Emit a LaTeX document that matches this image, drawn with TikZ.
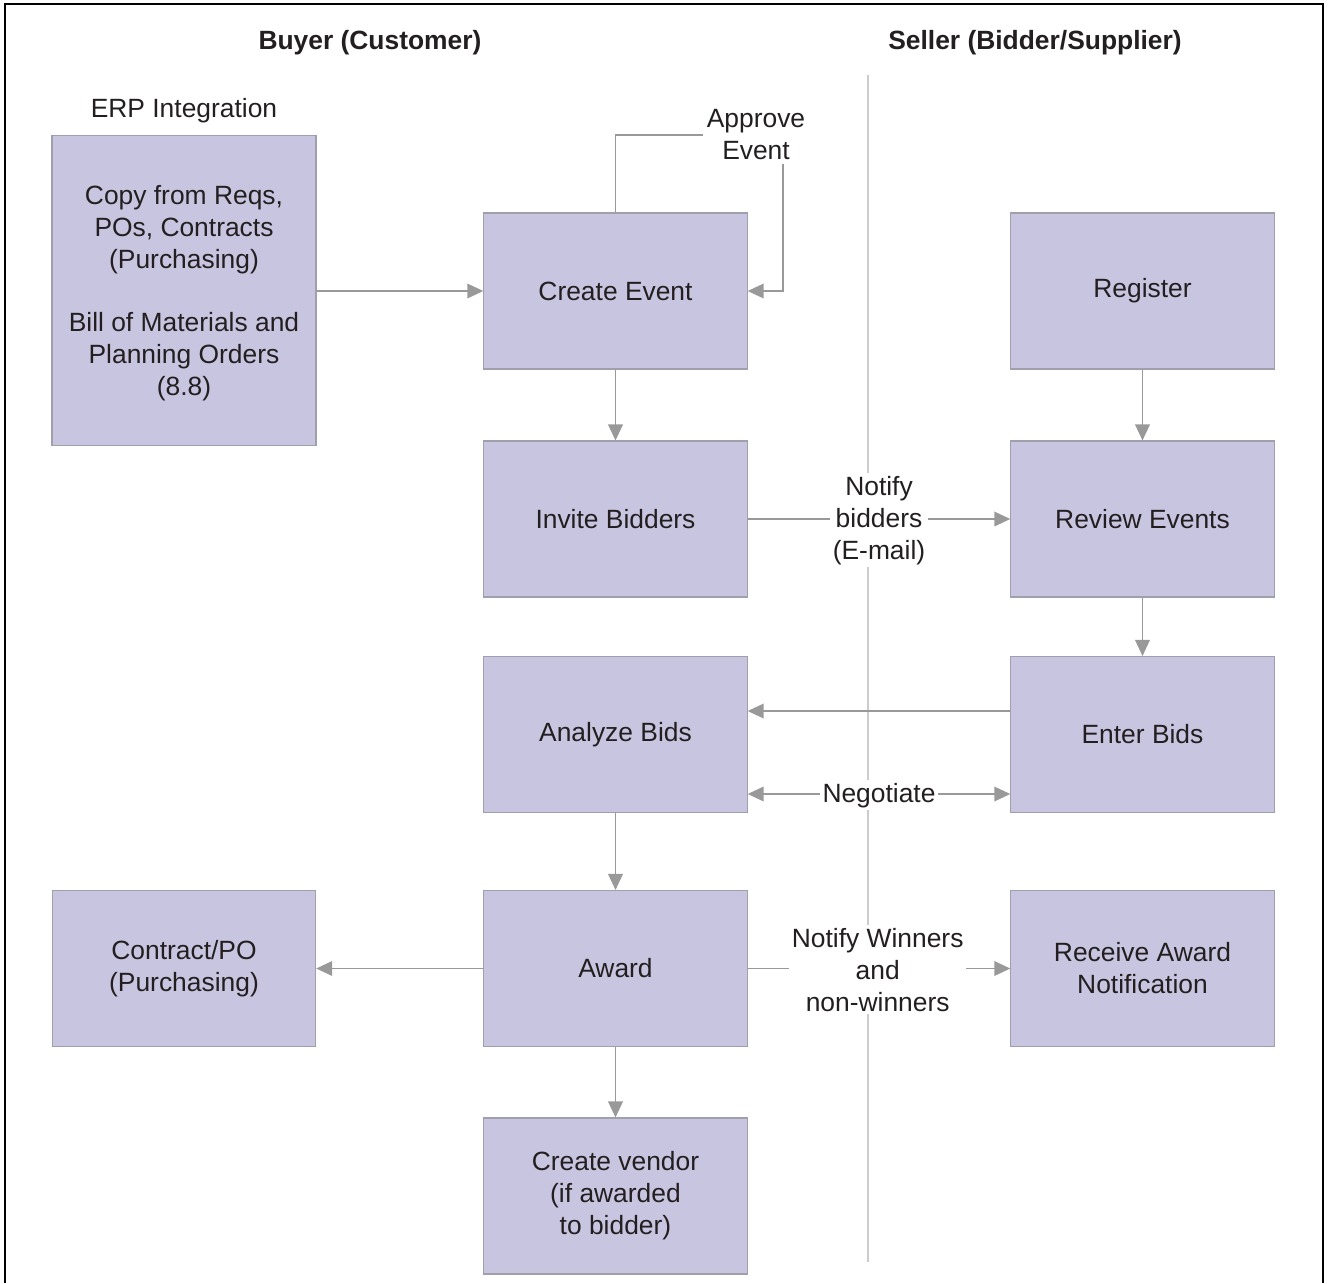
\documentclass[tikz,border=0pt]{standalone}
\usepackage{fontspec}
\setmainfont{Liberation Sans}
\usetikzlibrary{arrows.meta}
\definecolor{boxfill}{HTML}{C8C5E0}
\definecolor{boxline}{HTML}{A09FAE}
\definecolor{conn}{HTML}{999999}
\definecolor{divider}{HTML}{CCCCCC}
\definecolor{txt}{HTML}{231F20}
\begin{document}
\begin{tikzpicture}[x=0.75pt,y=-0.75pt,
  every node/.style={font=\fontsize{19.8}{24}\selectfont, text=txt, align=center},
  box/.style={draw=boxline, fill=boxfill, line width=0.8pt,
              minimum width=197.5pt, minimum height=117pt, inner sep=2pt},
  arr/.style={draw=conn, line width=1.1pt, -{Triangle[length=12pt,width=11pt]}},
  lbl/.style={fill=white, inner sep=2pt},
  head/.style={font=\fontsize{19.8}{24}\selectfont\bfseries}]
\useasboundingbox (0,0) rectangle (1329,1283);
% outer frame, open at the bottom
\draw[line width=1.6pt] (5,1283) -- (5,4) -- (1323,4) -- (1323,1283);
% lane divider
\draw[divider, line width=1.1pt] (868,75) -- (868,1262);
% lane headings
\node[head] (buyer) at (370,43) {Buyer (Customer)};
\node[head] (seller) at (1035,43) {Seller (Bidder/Supplier)};
\node (erplabel) at (184,111) {ERP Integration};
% boxes
\node[box, minimum height=233pt, minimum width=198pt] (erp) at (184,290.5) {};
\node (erptext) at (184,293) {Copy from Reqs,\\POs, Contracts\\(Purchasing)\\[23pt]Bill of Materials and\\Planning Orders\\(8.8)};
\node[box] (create) at (615.5,291) {Create Event};
\node[box] (register) at (1142.5,291) {Register};
\node[box] (invite) at (615.5,519) {Invite Bidders};
\node[box] (review) at (1142.5,519) {Review Events};
\node[box] (analyze) at (615.5,734.5) {Analyze Bids};
\node[box] (enter) at (1142.5,734.5) {Enter Bids};
\node[box] (contract) at (184,968.5) {Contract/PO\\(Purchasing)};
\node[box] (award) at (615.5,968.5) {Award};
\node[box] (receive) at (1142.5,968.5) {Receive Award\\Notification};
\node[box] (vendor) at (615.5,1196) {Create vendor\\(if awarded\\to bidder)};
% approval loop
\coordinate (loopA) at (615.5,135);
\coordinate (loopB) at (783,135);
\draw[arr] (create.north) -- (loopA) -- (loopB) -- (loopB |- create.east) -- (create.east);
\node[lbl, inner sep=3pt] (approve) at (756,135) {Approve\\Event};
% connectors
\draw[arr] (erp.east |- create.west) -- (create.west);
\draw[arr] (create) -- (invite);
\draw[arr] (register) -- (review);
\draw[arr] (review) -- (enter);
\draw[arr] (invite) -- (review) node[lbl, midway, yshift=-1pt] (notify) {Notify\\bidders\\(E-mail)};
\draw[arr] (enter.west |- 0,711) -- (analyze.east |- 0,711);
\draw[arr, {Triangle[length=12pt,width=11pt]}-{Triangle[length=12pt,width=11pt]}]
  (analyze.east |- 0,794) -- (enter.west |- 0,794) node[lbl, midway, yshift=-1pt] (negotiate) {Negotiate};
\draw[arr] (analyze) -- (award);
\draw[arr] (award) -- (contract);
\draw[arr] (award) -- (receive) node[lbl, midway, xshift=-1pt, yshift=-1pt] (winners) {Notify Winners\\and\\non-winners};
\draw[arr] (award) -- (vendor);
\end{tikzpicture}
\end{document}
